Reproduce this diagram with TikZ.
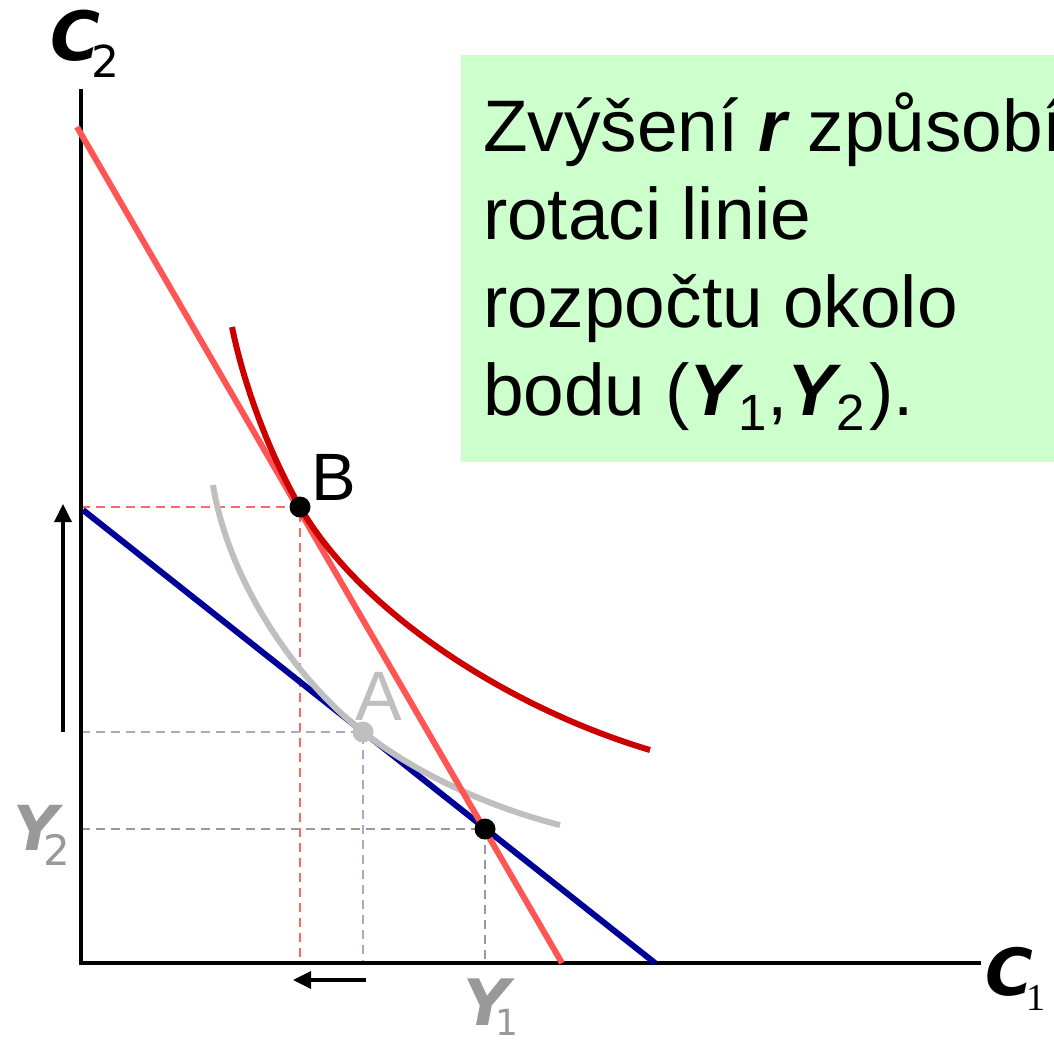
\documentclass[tikz,border=0pt]{standalone}
\usepackage{fontspec}
\usepackage{graphicx}
\setmainfont{Liberation Sans}
\newfontfamily\dvs{DejaVu Sans}
\newfontfamily\serf{Liberation Serif}
\usetikzlibrary{arrows.meta}
\definecolor{salmon}{HTML}{FF5555}
\definecolor{dkred}{HTML}{CC0000}
\definecolor{navyb}{HTML}{000099}
\definecolor{curvegrey}{HTML}{BFBFBF}
\definecolor{lblgrey}{HTML}{999999}
\definecolor{dashred}{HTML}{FF6666}
\definecolor{dashbg}{HTML}{A8A8C8}
\definecolor{dashgrey}{HTML}{999999}
\definecolor{boxgreen}{HTML}{CCFFCC}
\newcommand\boxsub[1]{\raisebox{-15pt}{\fontsize{51}{51}\selectfont #1}}
\tikzset{
  lbl/.style={anchor=base west, inner sep=0pt, outer sep=0pt},
  boxtext/.style={lbl, font=\fontsize{73}{88}\selectfont},
  dashln/.style={line width=2pt, dash pattern=on 9pt off 6pt},
  axisln/.style={line width=4pt, black},
  budget/.style={line width=6pt},
  icurve/.style={line width=6pt},
  dotnode/.style={circle, inner sep=0pt, minimum size=21pt},
  shiftarrow/.style={line width=3.5pt, -{Triangle[length=18pt,width=17pt]}}
}
\begin{document}
\begin{tikzpicture}[x=1pt,y=-1pt]
\useasboundingbox (0,0) rectangle (1054,1039);
% green text box
\fill[boxgreen] (461,55) rectangle (1060,462);
\node[boxtext] (t1) at (483,151) {Zvýšení {\bfseries\itshape r} způsobí};
\node[boxtext] (t2) at (483,239) {rotaci linie};
\node[boxtext] (t3) at (483,327) {rozpočtu okolo};
\node[boxtext] (t4) at (483,415) {bodu ({\bfseries\itshape Y}\boxsub{1},{\bfseries\itshape Y}\boxsub{2}\kern5pt).};
% key coordinates
\coordinate (O) at (81,963);
\coordinate (ytop) at (81,89);
\coordinate (xend) at (981,963);
\coordinate (B) at (300,507);
\coordinate (A) at (363,732);
\coordinate (E) at (485,829);
\coordinate (yB) at (81,507);
\coordinate (xB) at (300,963);
\coordinate (yA) at (81,732);
\coordinate (xA) at (363,963);
\coordinate (yE) at (81,829);
\coordinate (xE) at (485,963);
% dashed guides
\draw[dashln, dashred] (yB) -- (B) -- (xB);
\draw[dashln, dashbg] (yA) -- (A) -- (xA);
\draw[dashln, dashgrey] (yE) -- (E) -- (xE);
% axes
\draw[axisln] (ytop) -- (O) -- (xend);
% budget line (old)
\coordinate (bl1) at (83,510);
\coordinate (bl2) at (655,963);
\draw[budget, navyb] (bl1) -- (bl2);
% old indifference curve
\coordinate (g1) at (213,485);
\coordinate (g2) at (560,825);
\draw[icurve, curvegrey] (g1) .. controls (228,578) and (292,676) .. (A)
  .. controls (418,775) and (492,808) .. (g2);
% new budget line
\coordinate (rl1) at (77,127);
\coordinate (rl2) at (562,963);
\draw[budget, salmon] (rl1) -- (rl2);
% new indifference curve
\coordinate (r1) at (232,327);
\coordinate (r2) at (650,750);
\draw[icurve, dkred] (r1) .. controls (244,386) and (270,455) .. (B)
  .. controls (360,611) and (506,707) .. (r2);
% dots
\node[dotnode, fill=black] (dotB) at (B) {};
\node[dotnode, fill=curvegrey] (dotA) at (A) {};
\node[dotnode, fill=black] (dotE) at (E) {};
% point labels
\node[lbl, font=\fontsize{67}{67}\selectfont] (labB) at (311,500) {B};
\node[lbl, font=\fontsize{70}{70}\selectfont, text=curvegrey] (labA) at (355,720) {A};
% shift arrows
\coordinate (ua1) at (63,732);
\coordinate (ua2) at (63,504);
\draw[shiftarrow] (ua1) -- (ua2);
\coordinate (la1) at (366,980);
\coordinate (la2) at (293,980);
\draw[shiftarrow] (la1) -- (la2);
% axis labels
\node[lbl] (labC2) at (50,60) {\fontsize{68}{68}\selectfont\dvs\bfseries\itshape C\kern-8pt\raisebox{-17pt}{\fontsize{44}{44}\selectfont\mdseries\upshape\dvs 2}};
\node[lbl] (labC1) at (985,995) {\fontsize{65}{65}\selectfont\dvs\bfseries\itshape C\kern-6pt\raisebox{-15pt}{\fontsize{38}{38}\selectfont\mdseries\upshape\serf 1}};
\node[lbl, text=lblgrey] (labY2) at (13,850) {\fontsize{62}{62}\selectfont\dvs\bfseries\itshape Y\kern-14pt\raisebox{-15pt}{\fontsize{42}{42}\selectfont\mdseries\upshape\dvs 2}};
\node[lbl, text=lblgrey] (labY1) at (463,1025) {\fontsize{64}{64}\selectfont\dvs\bfseries\itshape Y\kern-14pt\raisebox{-10pt}{\fontsize{36}{36}\selectfont\mdseries\upshape\dvs 1}};
\end{tikzpicture}
\end{document}
